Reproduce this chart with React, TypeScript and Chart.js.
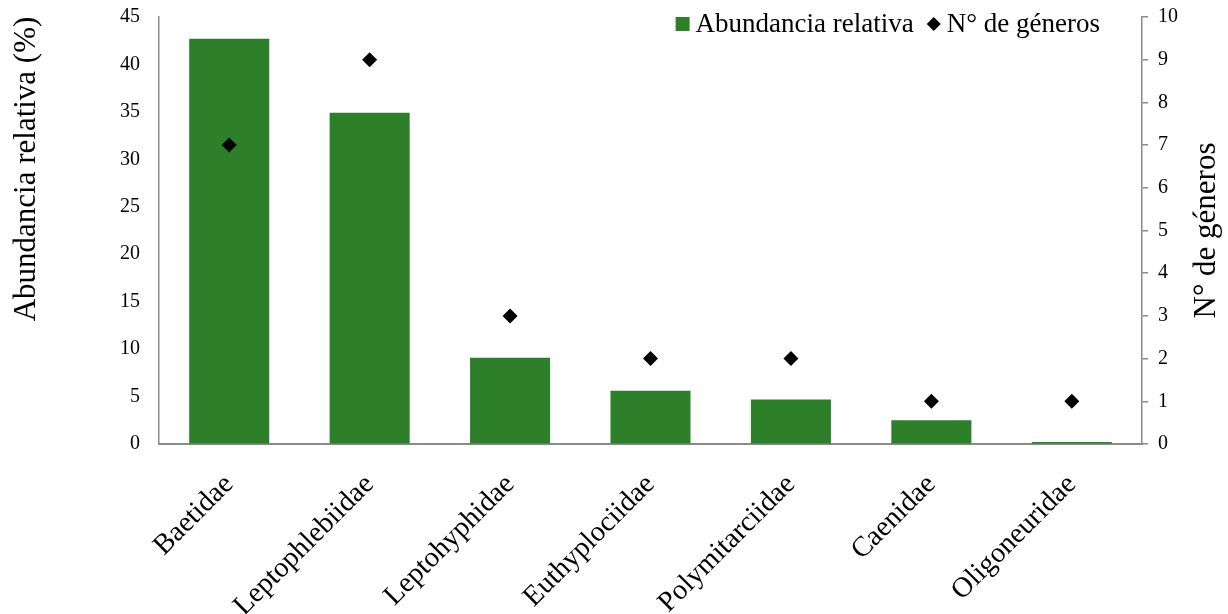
import React, { useEffect, useRef } from "react";
import { Chart, registerables } from "chart.js";

Chart.register(...registerables);

const families: string[] = [
  "Baetidae",
  "Leptophlebiidae",
  "Leptohyphidae",
  "Euthyplociidae",
  "Polymitarciidae",
  "Caenidae",
  "Oligoneuridae",
];
const abundance: number[] = [42.7, 34.9, 9.1, 5.6, 4.7, 2.5, 0.2];
const genera: number[] = [7, 9, 3, 2, 2, 1, 1];
const seriesNames: string[] = ["Abundancia relativa", "N° de géneros"];
const leftTitle = "Abundancia relativa (%)";
const rightTitle = "N° de géneros";

const FONT = "'Liberation Serif', 'Times New Roman', serif";
const GREEN = "#2e7f2a";
const AXIS = "#8a8a8a";

const legendPlugin = {
  id: "customLegend",
  afterDraw(chart: any) {
    const ctx = chart.ctx as CanvasRenderingContext2D;
    const area = chart.chartArea;
    ctx.save();
    ctx.font = `27px ${FONT}`;
    ctx.textBaseline = "alphabetic";
    ctx.fillStyle = "#000";
    const w1 = ctx.measureText(seriesNames[0]).width;
    const w2 = ctx.measureText(seriesNames[1]).width;
    const box = 14;
    const gap = 6;
    const between = 13;
    const total = box + gap + w1 + between + box + gap + w2;
    let x = area.right - 42 - total;
    const baseline = area.top + 15;
    const cy = baseline - 8;
    ctx.fillStyle = GREEN;
    ctx.fillRect(x, cy - box / 2, box, box);
    x += box + gap;
    ctx.fillStyle = "#000";
    ctx.fillText(seriesNames[0], x, baseline);
    x += w1 + between;
    ctx.beginPath();
    ctx.moveTo(x + box / 2, cy - box / 2);
    ctx.lineTo(x + box, cy);
    ctx.lineTo(x + box / 2, cy + box / 2);
    ctx.lineTo(x, cy);
    ctx.closePath();
    ctx.fill();
    x += box + gap;
    ctx.fillText(seriesNames[1], x, baseline);

    // axis titles, both reading bottom-to-top
    ctx.font = `31px ${FONT}`;
    ctx.textAlign = "center";
    ctx.textBaseline = "middle";
    ctx.save();
    ctx.translate(27, 169);
    ctx.rotate(-Math.PI / 2);
    ctx.fillText(leftTitle, 0, 0);
    ctx.restore();
    ctx.save();
    ctx.translate(area.right + 65, (area.top + area.bottom) / 2);
    ctx.rotate(-Math.PI / 2);
    ctx.fillText(rightTitle, 0, 0);
    ctx.restore();
    ctx.restore();
  },
};

export default function App() {
  const ref = useRef<HTMLCanvasElement | null>(null);

  useEffect(() => {
    if (!ref.current) return;
    const chart = new Chart(ref.current, {
      type: "bar",
      data: {
        labels: families,
        datasets: [
          {
            type: "bar",
            label: seriesNames[0],
            data: abundance,
            backgroundColor: GREEN,
            borderWidth: 0,
            yAxisID: "y",
            order: 2,
            barPercentage: 0.57,
            categoryPercentage: 1,
          },
          {
            type: "line",
            label: seriesNames[1],
            data: genera,
            yAxisID: "y1",
            showLine: false,
            pointStyle: "rectRot",
            pointRadius: 7.5,
            pointBackgroundColor: "#000",
            pointBorderColor: "#000",
            pointBorderWidth: 0,
            order: 1,
          } as any,
        ],
      },
      options: {
        animation: false,
        responsive: true,
        maintainAspectRatio: false,
        layout: { padding: { top: 17, left: 0, right: 0, bottom: 0 } },
        plugins: {
          legend: { display: false },
          tooltip: { enabled: false },
        },
        scales: {
          x: {
            offset: true,
            grid: { display: false, drawTicks: false },
            border: { display: true, color: AXIS, width: 2 },
            ticks: {
              maxRotation: 45,
              minRotation: 45,
              autoSkip: false,
              color: "#000",
              padding: 24,
              font: { family: FONT, size: 28.5 },
            },
            afterFit(scale: any) {
              scale.height = 170;
              scale.paddingLeft = 0;
              scale.paddingRight = 0;
            },
          },
          y: {
            position: "left",
            min: 0,
            max: 45,
            grid: { drawOnChartArea: false, drawTicks: false },
            border: { display: true, color: AXIS, width: 1.5 },
            ticks: {
              stepSize: 5,
              color: "#000",
              padding: 19,
              font: { family: FONT, size: 20 },
            },
            afterFit(scale: any) {
              scale.width = 159;
              scale.paddingTop = 0;
              scale.paddingBottom = 0;
            },
          },
          y1: {
            position: "right",
            min: 0,
            max: 10,
            grid: {
              drawOnChartArea: false,
              drawTicks: true,
              tickLength: 6,
              color: AXIS,
              lineWidth: 1.5,
            },
            border: { display: true, color: AXIS, width: 1.5 },
            ticks: {
              stepSize: 1,
              color: "#000",
              padding: 10,
              font: { family: FONT, size: 20 },
            },
            afterFit(scale: any) {
              scale.width = 86;
              scale.paddingTop = 0;
              scale.paddingBottom = 0;
            },
          },
        },
      },
      plugins: [legendPlugin],
    });
    return () => chart.destroy();
  }, []);

  return (
    <div
      style={{
        position: "absolute",
        left: 0,
        top: 0,
        width: 1228,
        height: 614,
        background: "#fff",
      }}
    >
      <canvas ref={ref} />
    </div>
  );
}
